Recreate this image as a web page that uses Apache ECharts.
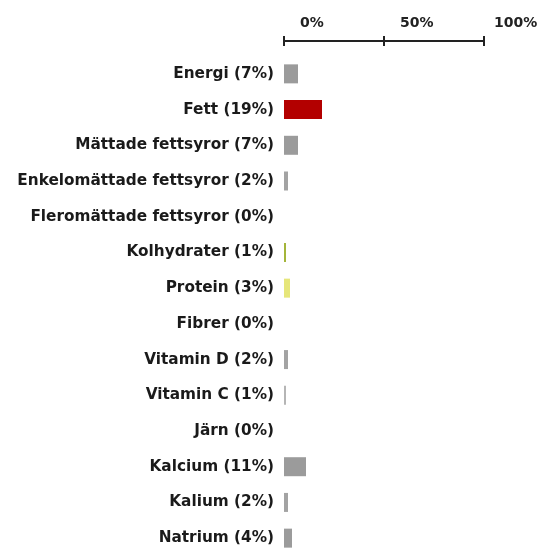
<!DOCTYPE html>
<html><head><meta charset="utf-8">
<script src="https://cdn.jsdelivr.net/npm/echarts@6/dist/echarts.min.js"></script>
<style>html,body{margin:0;padding:0;background:#fff}#c{width:555px;height:556px}</style>
</head><body><div id="c"></div>
<script>
const names = ['Energi','Fett','Mättade fettsyror','Enkelomättade fettsyror','Fleromättade fettsyror','Kolhydrater','Protein','Fibrer','Vitamin D','Vitamin C','Järn','Kalcium','Kalium','Natrium'];
const values = [7,19,7,2,0,1,3,0,2,1,0,11,2,4];
const barColors = ['#9b9b9b','#b30000','#9b9b9b','#a3a3a3','#9b9b9b','#a4b53a','#e6e67a','#9b9b9b','#a3a3a3','#b5b5b5','#9b9b9b','#9b9b9b','#a3a3a3','#9b9b9b'];
const xTicks = [0,50,100];

const chart = echarts.init(document.getElementById('c'));
const labels = names.map((n,i)=>n+' ('+values[i]+'%)');
const font = 'DejaVu Sans';
const axisCommon = {
  type:'value', min:0, max:100, interval:50, position:'top', offset:15,
  splitLine:{show:false},
  axisLine:{show:true, lineStyle:{color:'#222', width:2}}
};
chart.setOption({
  animation:false,
  grid:{left:284, right:71, top:56, bottom:-5, containLabel:false},
  xAxis:[
    Object.assign({}, axisCommon, {
      axisTick:{show:true, inside:false, length:5, lineStyle:{color:'#222', width:2}},
      axisLabel:{show:true, margin:11, align:'left', fontFamily:font, fontWeight:'bold', fontSize:14, color:'#222',
        formatter:(v)=> v===100 ? '{b|'+v+'%}' : '{a|'+v+'%}',
        rich:{a:{padding:[0,0,0,16], fontFamily:font, fontWeight:'bold', fontSize:14, color:'#222'},
              b:{padding:[0,0,0,10], fontFamily:font, fontWeight:'bold', fontSize:14, color:'#222'}}}
    }),
    Object.assign({}, axisCommon, {
      axisTick:{show:true, inside:true, length:5, lineStyle:{color:'#222', width:2}},
      axisLabel:{show:false}
    })
  ],
  yAxis:{
    type:'category', data:labels, inverse:true,
    axisLine:{show:false}, axisTick:{show:false},
    axisLabel:{margin:10, fontFamily:font, fontWeight:'bold', fontSize:15.3, color:'#1a1a1a'}
  },
  series:[{
    type:'bar', xAxisIndex:0, barWidth:19,
    data: values.map((v,i)=>({value:v, itemStyle:{color:barColors[i]}}))
  }]
});
</script></body></html>
